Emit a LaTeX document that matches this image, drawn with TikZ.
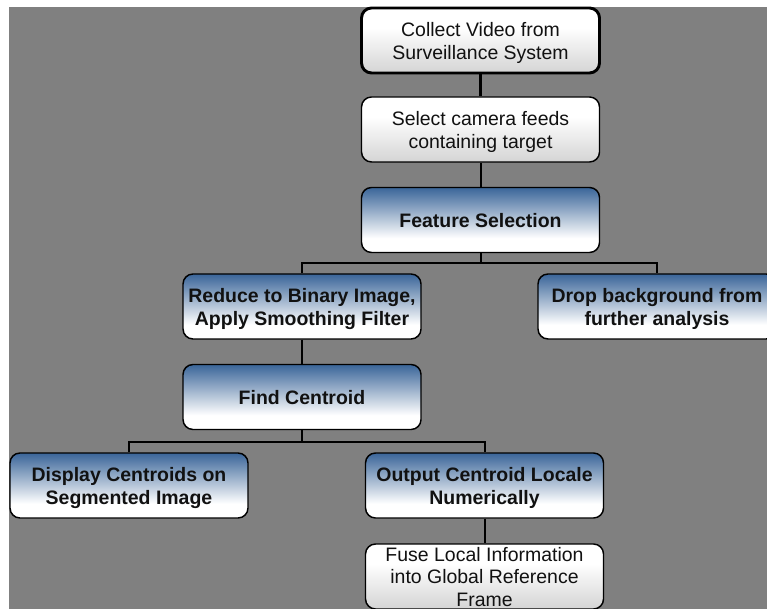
\documentclass[tikz,border=0pt]{standalone}
\usepackage{fontspec}
\setmainfont{Liberation Sans}
\definecolor{bluetop}{HTML}{3A6599}
\definecolor{graybot}{HTML}{D4D4D4}
\definecolor{bggray}{HTML}{808080}
\definecolor{txt}{HTML}{111111}
\pgfdeclareverticalshading{blueshade}{100bp}{color(0bp)=(white); color(25bp)=(white); color(36bp)=(white); color(75bp)=(bluetop); color(100bp)=(bluetop)}
\pgfdeclareverticalshading{grayshade}{100bp}{color(0bp)=(graybot); color(25bp)=(graybot); color(60bp)=(white); color(100bp)=(white)}
\begin{document}
\begin{tikzpicture}[x=0.75pt,y=-0.75pt,
  box/.style={draw=black, line width=1.1pt, rounded corners=7.5pt,
    minimum width=178.5pt, minimum height=48.75pt, inner sep=0pt, text depth=0pt,
    align=center, text=txt, font=\fontsize{14.6}{17.3}\selectfont},
  plainbox/.style={box, shade, shading=grayshade},
  bluebox/.style={box, shade, shading=blueshade, font=\fontsize{14.6}{17.3}\selectfont\bfseries},
  textonly/.style={inner sep=0pt, align=center, text=txt, font=\fontsize{14.6}{16.9}\selectfont},
  link/.style={draw=black, line width=1.5pt}]
\useasboundingbox (0,0) rectangle (767,609);
\fill[bggray] (9,7) rectangle (767,609);

\node[plainbox, line width=2.2pt] (n1) at (480.5,40.5) {Collect Video from\\Surveillance System};
\node[plainbox] (n2) at (480.5,129.5) {Select camera feeds\\containing target};
\node[bluebox] (n3) at (480.5,220) {Feature Selection};
\node[bluebox] (n4) at (302,306.5) {Reduce to Binary Image,\\Apply Smoothing Filter};
\node[bluebox] (n5) at (657,306.5) {Drop background from\\further analysis};
\node[bluebox] (n6) at (302,397) {Find Centroid};
\node[bluebox] (n7) at (129,485.5) {Display Centroids on\\Segmented Image};
\node[bluebox] (n8) at (484.5,485.5) {Output Centroid Locale\\Numerically};
\node[plainbox] (n9) at (484.5,576.5) {};
\node[textonly] (n9t) at (484.5,577) {Fuse Local Information\\into Global Reference\\Frame};

\coordinate (b1) at (n3.south |- 0,263);
\coordinate (b2) at (n6.south |- 0,442);
\draw[link, line width=2.2pt] (n1) -- (n2);
\draw[link] (n2) -- (n3);
\draw[link] (n3.south) -- (b1);
\draw[link] (n4.north) |- (b1) -| (n5.north);
\draw[link] (n4) -- (n6);
\draw[link] (n6.south) -- (b2);
\draw[link] (n7.north) |- (b2) -| (n8.north);
\draw[link] (n8) -- (n9);
\end{tikzpicture}
\end{document}
